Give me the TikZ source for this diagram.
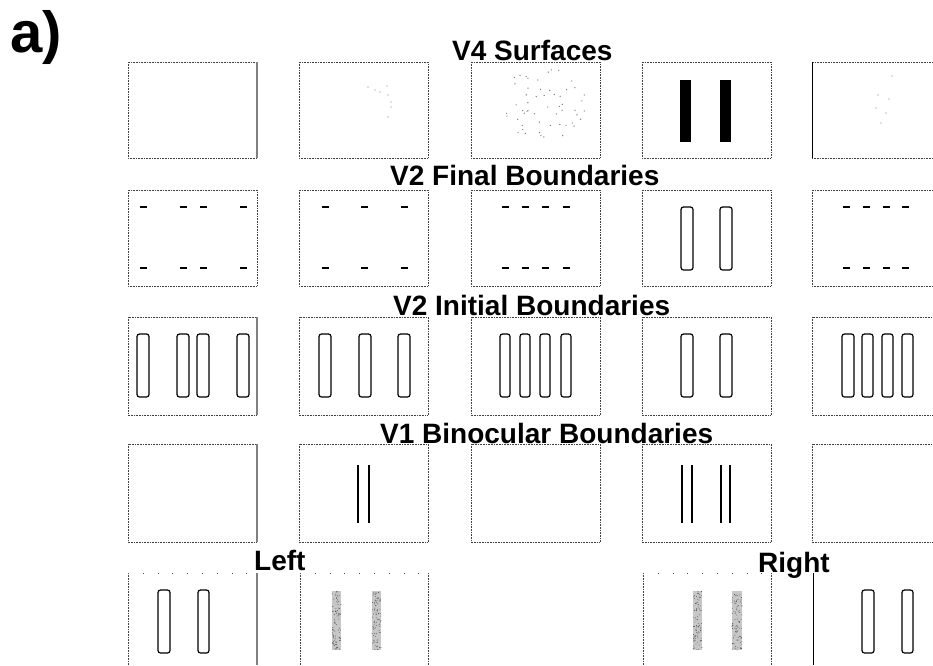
\documentclass[tikz,border=0pt]{standalone}
\usepackage{fontspec}
\setmainfont{Liberation Sans}
\tikzset{
  boxst/.style={draw=black!75, line width=0.6pt, dash pattern=on 0.6pt off 1pt},
  sparse/.style={draw=black!70, line width=0.8pt, dash pattern=on 0.8pt off 14pt},
  solidgray/.style={draw=black!50, line width=1.2pt},
  solidblack/.style={draw=black, line width=0.9pt},
  obar/.style={draw=black, line width=1.2pt, rounded corners=2.5pt},
  fbar/.style={fill=black},
  sbar/.style={fill=black!22},
  capmark/.style={draw=black, line width=1.6pt},
  vline/.style={draw=black, line width=1.1pt},
  dotmark/.style={fill=black!50},
  title/.style={font=\bfseries\fontsize{28}{30}\selectfont, inner sep=0pt, anchor=base west},
  biglabel/.style={font=\bfseries\fontsize{58}{60}\selectfont, inner sep=0pt, anchor=base west}
}
\newcommand\stipplebar[4]{%
  \fill[sbar] (#1,#2) rectangle (#3,#4);
  \foreach \k in {1,...,90}{
    \fill[black!70] ({#1+rnd*(#3-#1)},{#2+rnd*(#4-#2)}) circle (0.45);
  }%
}
\begin{document}
\begin{tikzpicture}[x=1pt,y=-1pt]
\useasboundingbox (0,0) rectangle (933,665);
\clip (0,0) rectangle (933,665);
\fill[white] (0,0) rectangle (933,665);

% ---------- Row 1: V4 Surfaces ----------
\foreach \x in {128,299,471,642,812} \draw[boxst] (\x,62) rectangle ++(129,96);
\draw[solidgray] (257,62) -- (257,158);
\draw[solidblack] (812,62) -- (812,158);
% col2 dots
\foreach \p in {(368,87),(375,90),(380,92),(387,86),(388,95),(391,102),(391,107),(388,117)}
  \fill[dotmark] \p circle (0.7);
% col3 scattered dots
\pgfmathsetseed{7}
\foreach \i in {1,...,55}{
  \pgfmathsetmacro\ang{rnd*360}
  \pgfmathsetmacro\rad{sqrt(rnd)}
  \fill[dotmark] ({543+44*\rad*cos(\ang)},{104+36*\rad*sin(\ang)}) circle (0.7);
}
% col4 filled bars
\fill[fbar] (680,80) rectangle (691,142);
\fill[fbar] (720,80) rectangle (731,142);
% col5 dots
\foreach \p in {(892,76),(878,95),(889,99),(876,108),(886,113),(881,123)}
  \fill[dotmark] \p circle (0.7);

% ---------- Row 2: V2 Final Boundaries ----------
\foreach \x in {128,299,471,642,812} \draw[boxst] (\x,190) rectangle ++(129,96);
\foreach \c in {143.5,183.5,203.5,243.5,325,364.5,404,505,525,545,566,846.5,866.5,886.5,905.5}{
  \draw[capmark] (\c-3.5,207) -- (\c+3.5,207);
  \draw[capmark] (\c-3.5,268) -- (\c+3.5,268);
}
\draw[obar] (681,207) rectangle (693,270);
\draw[obar] (720,207) rectangle (732,270);

% ---------- Row 3: V2 Initial Boundaries ----------
\foreach \x in {128,299,471,642,812} \draw[boxst] (\x,317) rectangle ++(129,98);
\draw[solidgray] (257,317) -- (257,415);
\foreach \a/\b in {137/149,177/189,197/209,237/249,319/331,359/371,398/410,500/510,520/530,540/550,561/571,681/693,720/732,842/854,862/873,882/893,902/913}
  \draw[obar] (\a,334) rectangle (\b,397);

% ---------- Row 4: V1 Binocular Boundaries ----------
\foreach \x in {128,299,471,642,812} \draw[boxst] (\x,444) rectangle ++(129,98);
\draw[solidgray] (257,444) -- (257,542);
\foreach \x in {358,369,682,692,721,730}
  \draw[vline] (\x,465) -- (\x,523);

% ---------- Row 5: Left / Right ----------
\draw[boxst] (128,573) -- (128,665);
\draw[sparse] (128,573) -- (257,573);
\draw[solidgray] (257,573) -- (257,665);
\draw[boxst] (300,573) -- (300,665);
\draw[sparse] (300,573) -- (428,573);
\draw[boxst] (428,573) -- (428,665);
\draw[boxst] (643,573) -- (643,665);
\draw[sparse] (643,573) -- (771,573);
\draw[boxst] (771,573) -- (771,665);
\draw[solidblack] (813,573) -- (813,665);
\draw[obar] (158,590) rectangle (170,653);
\draw[obar] (198,590) rectangle (209,653);
\stipplebar{332}{591}{341}{650}
\stipplebar{372}{591}{381}{650}
\stipplebar{693}{591}{702}{650}
\stipplebar{732}{591}{742}{650}
\draw[obar] (862,590) rectangle (874,653);
\draw[obar] (902,590) rectangle (913,653);

% ---------- Labels ----------
\node[biglabel] (lbla) at (10,52) {a)};
\node[title] (tv4) at (452,60) {V4 Surfaces};
\node[title] (tv2f) at (390,185) {V2 Final Boundaries};
\node[title] (tv2i) at (393,315) {V2 Initial Boundaries};
\node[title] (tv1) at (380,443) {V1 Binocular Boundaries};
\node[title] (tleft) at (254,570) {Left};
\node[title] (tright) at (758,572) {Right};
\end{tikzpicture}
\end{document}
